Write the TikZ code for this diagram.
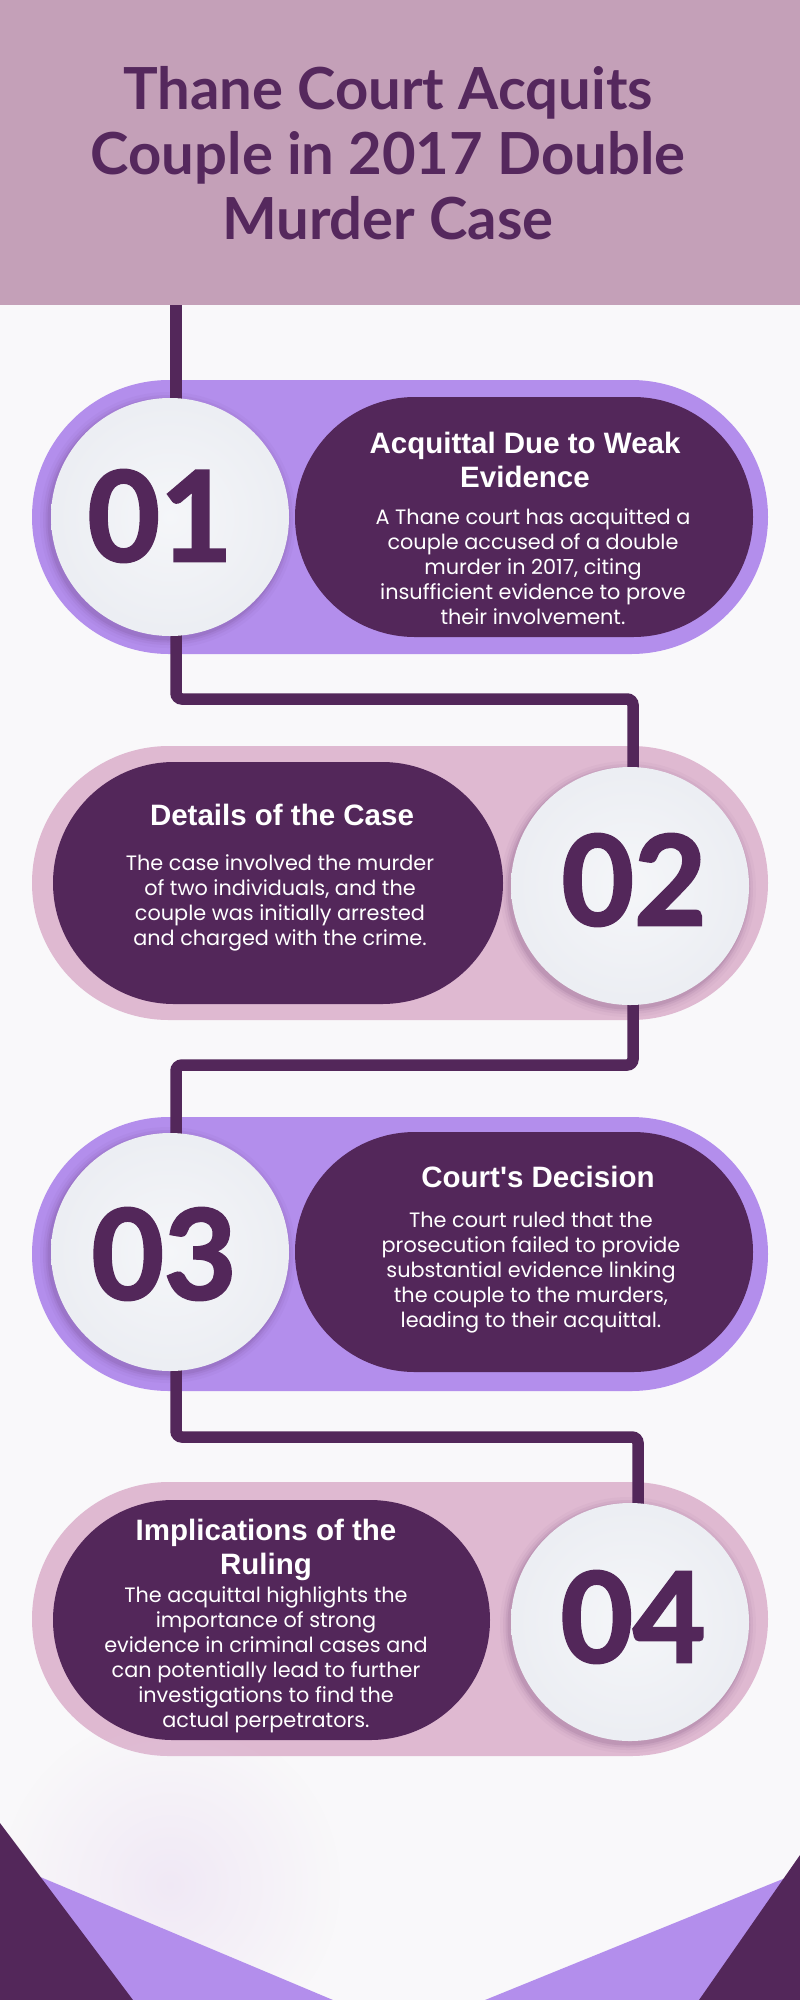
\documentclass[tikz,border=0pt]{standalone}
\usepackage{fontspec}
\setmainfont{Poppins}
\newfontfamily\titlefont{Lato}
\newfontfamily\headfont{Liberation Sans}
\newfontfamily\digfont{Lato}[BoldFeatures={FakeBold=2}]
\usetikzlibrary{shapes.misc,fadings}
\tikzfading[name=glowfade, inner color=transparent!0, outer color=transparent!100]
\definecolor{bgc}{HTML}{F9F8FA}
\definecolor{hdrc}{HTML}{C4A0B8}
\definecolor{ttlc}{HTML}{55285D}
\definecolor{dk}{HTML}{53275A}
\definecolor{lav}{HTML}{B38EEC}
\definecolor{pnk}{HTML}{DFB9D1}
\definecolor{discc}{HTML}{EEF0F5}
\definecolor{hazec}{HTML}{E6D6F0}
\pgfdeclarelayer{bg}
\pgfdeclarelayer{mid}
\pgfsetlayers{bg,mid,main}
\tikzset{
  pillout/.style={rounded rectangle, minimum width=736pt, minimum height=274pt, inner sep=0pt},
  pillin/.style={rounded rectangle, fill=dk, minimum height=240pt, inner sep=0pt},
  discst/.style={circle, minimum size=238pt, inner sep=0pt, inner color=discc!60!white, outer color=discc!99!black},
  dig/.style={font=\digfont\bfseries\fontsize{125}{125}\selectfont, text=dk, inner sep=0pt},
  head/.style={font=\headfont\bfseries\fontsize{29.5}{34}\selectfont, text=white, align=center, inner sep=0pt, anchor=north},
  bodytxt/.style={font=\fontsize{20.8}{25}\selectfont, text=white, align=center, inner sep=0pt, anchor=north},
  conn/.style={draw=dk, line width=11.5pt, rounded corners=6pt},
}
\begin{document}
\begin{tikzpicture}[x=1pt,y=-1pt]
\useasboundingbox (0,0) rectangle (800,2000);
\begin{pgfonlayer}{bg}
  \fill[bgc] (0,0) rectangle (800,2000);
  \node[rectangle, fill=hdrc, minimum width=800pt, minimum height=305pt, inner sep=0pt, anchor=north west] (hdr) at (0,0) {};
  \node[pillout, fill=lav] (o1) at (400,517) {};
  \node[pillout, fill=pnk] (o2) at (400,883) {};
  \node[pillout, fill=lav] (o3) at (400,1254) {};
  \node[pillout, fill=pnk] (o4) at (400,1619) {};
  % bottom decoration
  \fill[hazec, opacity=0.45, path fading=glowfade] (170,1885) circle (170pt);
  \fill[lav] (0,1860) -- (333,2000) -- (0,2000) -- cycle;
  \fill[lav] (800,1872) -- (485,2000) -- (800,2000) -- cycle;
  \fill[dk] (0,1823) -- (133,2000) -- (0,2000) -- cycle;
  \fill[dk] (800,1855) -- (699,2000) -- (800,2000) -- cycle;
\end{pgfonlayer}

\node[font=\titlefont\bfseries\fontsize{58}{65}\selectfont, text=ttlc, align=center, inner sep=0pt, anchor=north] (ttl) at (388,66) {Thane Court Acquits\\Couple in 2017 Double\\Murder Case};

% soft shadows of the discs
\foreach \cx/\cy in {170/517, 630/886, 170/1252, 630/1622} {
  \foreach \rr/\oo in {128/0.03, 125/0.05, 122.5/0.07, 120.5/0.09}
    \fill[dk, opacity=\oo] (\cx-2,\cy+3) circle (\rr pt);
}

\node[discst] (c1) at (170,517) {};
\node[discst] (c2) at (630,886) {};
\node[discst] (c3) at (170,1252) {};
\node[discst] (c4) at (630,1622) {};

\node[pillin, minimum width=458pt] (p1) at (524,517) {};
\node[pillin, minimum width=450pt, minimum height=242pt] (p2) at (278,883) {};
\node[pillin, minimum width=458pt] (p3) at (524,1252) {};
\node[pillin, minimum width=437pt] (p4) at (271.5,1620) {};

\node[dig] (d1) at (160,516) {01};
\node[dig] (d2) at (634,880) {02};
\node[dig] (d3) at (164,1254) {03};
\node[dig] (d4) at (633,1617) {04};

\node[head] (h1) at (525,432) {Acquittal Due to Weak\\Evidence};
\node[bodytxt] (b1) at (533,508) {A Thane court has acquitted a\\couple accused of a double\\murder in 2017, citing\\insufficient evidence to prove\\their involvement.};
\node[head] (h2) at (282,804) {Details of the Case};
\node[bodytxt] (b2) at (280,854) {The case involved the murder\\of two individuals, and the\\couple was initially arrested\\and charged with the crime.};
\node[head] (h3) at (538,1166) {Court\textquotesingle s Decision};
\node[bodytxt] (b3) at (531,1212) {The court ruled that the\\prosecution failed to provide\\substantial evidence linking\\the couple to the murders,\\leading to their acquittal.};
\node[head] (h4) at (266,1519) {Implications of the\\Ruling};
\node[bodytxt] (b4) at (266,1586) {The acquittal highlights the\\importance of strong\\evidence in criminal cases and\\can potentially lead to further\\investigations to find the\\actual perpetrators.};

\coordinate (t1) at ([xshift=6pt]c1.center);
\coordinate (t2) at ([xshift=3pt]c2.center);
\coordinate (t3) at ([xshift=6pt]c3.center);
\coordinate (t4) at ([xshift=8pt]c4.center);
\begin{pgfonlayer}{mid}
  \draw[conn] (t1 |- hdr.south) -- (t1);
  \draw[conn] (t1) -- ++(0,182) -| (t2);
  \draw[conn] (t2) -- ++(0,179) -| (t3);
  \draw[conn] (t3) -- ++(0,185) -| (t4);
\end{pgfonlayer}
\end{tikzpicture}
\end{document}
